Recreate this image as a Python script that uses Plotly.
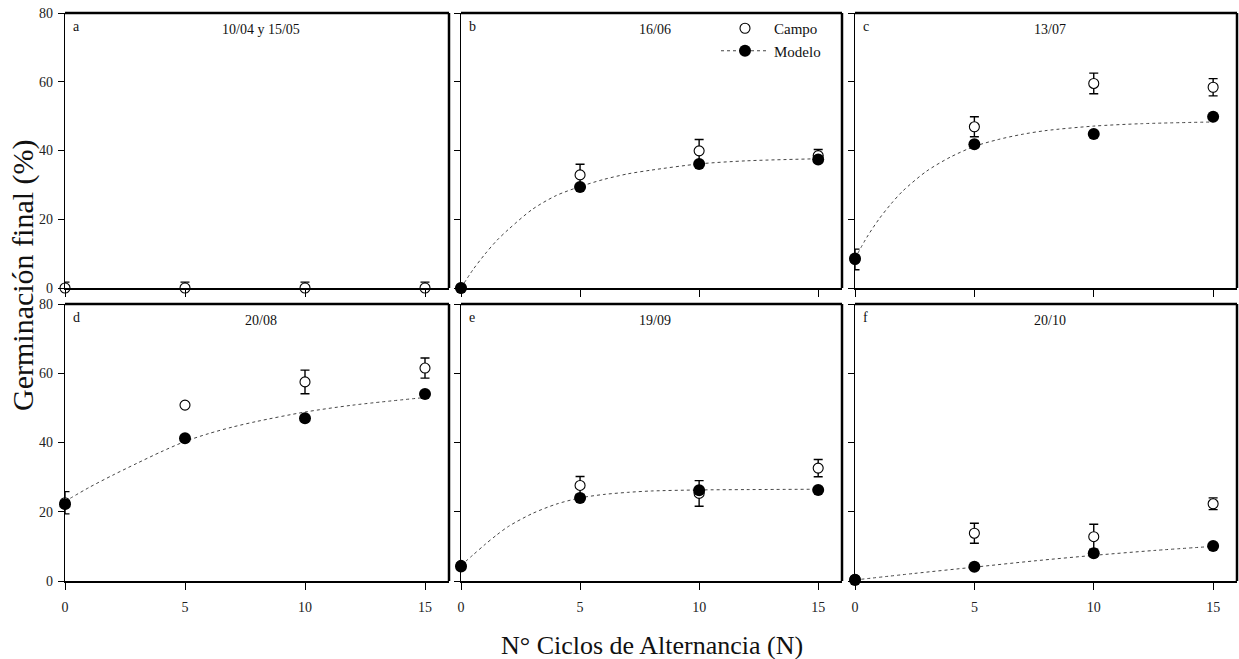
import plotly.graph_objects as go
from plotly.subplots import make_subplots

# ---------------- data ----------------
x_ciclos = [0, 5, 10, 15]

panel_letters = ["a", "b", "c", "d", "e", "f"]
panel_titles = ["10/04 y 15/05", "16/06", "13/07", "20/08", "19/09", "20/10"]

campo = {
    "a": [0, 0, 0, 0],
    "b": [0, 32.9, 39.9, 38.5],
    "c": [8.3, 46.9, 59.5, 58.4],
    "d": [22.6, 50.8, 57.5, 61.5],
    "e": [4.5, 27.6, 25.3, 32.6],
    "f": [0.5, 13.8, 12.8, 22.3],
}
campo_err = {
    "a": [1.7, 1.7, 1.7, 1.7],
    "b": [0.5, 3.1, 3.3, 1.8],
    "c": [3.0, 2.9, 3.0, 2.5],
    "d": [3.2, 0.0, 3.4, 2.9],
    "e": [0.5, 2.6, 3.7, 2.5],
    "f": [0.3, 2.9, 3.6, 1.7],
}
modelo = {
    "b": [0, 29.4, 36.1, 37.4],
    "c": [8.6, 41.8, 44.8, 49.8],
    "d": [22.2, 41.2, 47.0, 54.0],
    "e": [4.2, 24.0, 26.2, 26.3],
    "f": [0.3, 4.1, 8.0, 10.1],
}
# dotted model curves
curva_x = {
    "b": [0, 0.5, 1, 1.5, 2, 3, 4, 5, 6, 7, 8, 10, 12, 15],
    "c": [0, 0.5, 1, 1.5, 2, 3, 4, 5, 6, 7, 8, 10, 12, 15],
    "d": [0, 1, 2, 3, 4, 5, 6, 7, 8, 10, 12, 15],
    "e": [0, 0.5, 1, 1.5, 2, 3, 4, 5, 6, 7, 8, 10, 12, 15],
    "f": [0, 2.5, 5, 7.5, 10, 12.5, 15],
}
curva_y = {
    "b": [0, 5.3, 9.8, 13.8, 17.1, 22.9, 26.9, 29.5, 31.6, 33.2, 34.3, 36.1, 37.0, 37.6],
    "c": [8.6, 14.8, 20.0, 24.4, 28.2, 34.0, 38.1, 41.2, 43.2, 44.7, 45.8, 47.1, 47.8, 48.3],
    "d": [23.0, 27.0, 30.6, 34.0, 37.3, 40.3, 42.6, 44.5, 46.1, 48.8, 50.8, 53.0],
    "e": [4.5, 7.5, 10.5, 13.3, 15.8, 19.5, 22.2, 24.0, 25.0, 25.6, 26.0, 26.3, 26.4, 26.5],
    "f": [0.3, 2.2, 4.0, 5.8, 7.4, 8.8, 10.0],
}
y_ticks = [0, 20, 40, 60, 80]
x_ticks = [0, 5, 10, 15]

# ---------------- layout geometry ----------------
W, H = 1239, 659
cols_px = [(65, 449), (461, 842), (855, 1237)]
rows_px = [(13, 288), (304, 581)]
FONT = "Liberation Serif"

fig = make_subplots(rows=2, cols=3, horizontal_spacing=0.02, vertical_spacing=0.02)

for i, key in enumerate(panel_letters):
    r, c = i // 3 + 1, i % 3 + 1
    if key in curva_y:
        fig.add_trace(go.Scatter(
            x=curva_x[key], y=curva_y[key], mode="lines",
            line=dict(color="#444444", width=1, dash="dot", shape="spline", smoothing=0.8),
            showlegend=False, hoverinfo="skip"), row=r, col=c)
    fig.add_trace(go.Scatter(
        x=x_ciclos, y=campo[key], mode="markers", name="Campo",
        marker=dict(symbol="circle", size=10, color="white",
                    line=dict(color="black", width=1.1)),
        error_y=dict(type="data", array=campo_err[key], visible=True,
                     color="black", thickness=1.4, width=4.5),
        cliponaxis=False, showlegend=(key == "b")), row=r, col=c)
    if key in modelo:
        fig.add_trace(go.Scatter(
            x=x_ciclos, y=modelo[key], mode="markers", name="Modelo",
            marker=dict(symbol="circle", size=12, color="black"),
            cliponaxis=False, showlegend=False), row=r, col=c)
    if key == "b":
        fig.add_trace(go.Scatter(
            x=[None], y=[None], mode="lines+markers", name="Modelo",
            marker=dict(symbol="circle", size=12, color="black"),
            line=dict(color="#444444", width=1, dash="dot"),
            showlegend=True), row=r, col=c)

annotations = []
shapes = []
for i, key in enumerate(panel_letters):
    r, c = i // 3, i % 3
    x0, x1 = cols_px[c]
    y0, y1 = rows_px[r]
    idx = "" if i == 0 else str(i + 1)
    fig.layout["xaxis" + idx].update(
        domain=[x0 / W, x1 / W], range=[0, 16], tickvals=x_ticks,
        ticks="outside", ticklen=7, tickwidth=1.2, tickcolor="black",
        showticklabels=(r == 1), showgrid=False, zeroline=False,
        showline=True, linecolor="black", linewidth=1.8,
        tickfont=dict(family=FONT, size=14, color="#222"),
        ticklabelstandoff=5, automargin=False)
    fig.layout["yaxis" + idx].update(
        domain=[1 - y1 / H, 1 - y0 / H], range=[0, 80], tickvals=y_ticks,
        ticks="outside", ticklen=6, tickwidth=1.2, tickcolor="black",
        showticklabels=(c == 0), showgrid=False, zeroline=False,
        showline=True, linecolor="black", linewidth=1.2,
        tickfont=dict(family=FONT, size=14, color="#222"),
        ticklabelstandoff=2, automargin=False)
    xr = "x" + idx + " domain"
    yr = "y" + idx + " domain"
    shapes.append(dict(type="line", xref=xr, yref=yr, x0=0, x1=1, y0=1, y1=1,
                       line=dict(color="black", width=2.5)))
    shapes.append(dict(type="line", xref=xr, yref=yr, x0=1, x1=1, y0=0, y1=1,
                       line=dict(color="black", width=2.5)))
    annotations.append(dict(text=key, xref=xr, yref=yr, x=0.015, y=0.95,
                            xanchor="left", yanchor="middle", showarrow=False,
                            font=dict(family=FONT, size=14, color="#111")))
    annotations.append(dict(text=panel_titles[i], xref=xr, yref=yr, x=0.51, y=0.94,
                            xanchor="center", yanchor="middle", showarrow=False,
                            font=dict(family=FONT, size=14, color="#111")))

annotations.append(dict(text="Germinación final (%)", xref="paper", yref="paper",
                        x=23 / W, y=1 - 275 / H, textangle=-90, showarrow=False,
                        xanchor="center", yanchor="middle",
                        font=dict(family=FONT, size=30, color="#111")))
annotations.append(dict(text="N° Ciclos de Alternancia (N)", xref="paper", yref="paper",
                        x=652 / W, y=1 - 645 / H, showarrow=False,
                        xanchor="center", yanchor="middle",
                        font=dict(family=FONT, size=26, color="#111")))

fig.update_layout(
    width=W, height=H, margin=dict(l=0, r=0, t=0, b=0, autoexpand=False),
    paper_bgcolor="white", plot_bgcolor="white",
    annotations=annotations, shapes=shapes,
    legend=dict(x=716 / W, y=1 - 12 / H, xanchor="left", yanchor="top",
                bgcolor="rgba(0,0,0,0)", borderwidth=0, itemwidth=48,
                font=dict(family=FONT, size=15, color="#111"),
                tracegroupgap=0),
)

fig.write_html("out.html", config={"displayModeBar": False},
               post_script="document.body.style.margin='0';document.body.style.overflow='hidden';")
